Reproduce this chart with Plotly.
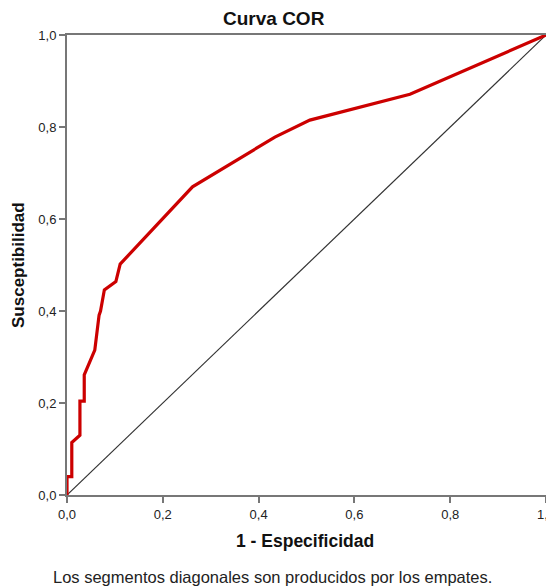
import plotly.graph_objects as go

fpr = [0.0, 0.0, 0.010, 0.010, 0.027, 0.027, 0.036, 0.036, 0.058, 0.067, 0.070, 0.078, 0.102, 0.111, 0.262, 0.434, 0.507, 0.716, 1.0]
tpr = [0.0, 0.040, 0.040, 0.114, 0.130, 0.204, 0.204, 0.261, 0.315, 0.391, 0.400, 0.446, 0.464, 0.502, 0.670, 0.778, 0.815, 0.871, 1.0]
ref_x = [0.0, 1.0]
ref_y = [0.0, 1.0]
ticks = [0.0, 0.2, 0.4, 0.6, 0.8, 1.0]
tick_text = ["0,0", "0,2", "0,4", "0,6", "0,8", "1,0"]

# page is offset by the default 8px body margin
OFF = 8
W, H = 546, 580
pl, pr, pt, pb = 67 - OFF, 8, 35 - OFF, H - (495 - OFF)
pw, ph = W - pl - pr, H - pt - pb

def px(x):
    return (x - OFF - pl) / pw

def py(y):
    return (H - pb - (y - OFF)) / ph

FONT = "Liberation Sans, Arial"

fig = go.Figure()
fig.add_trace(go.Scatter(x=ref_x, y=ref_y, mode="lines",
                         line=dict(color="#333333", width=1.2), hoverinfo="skip"))
fig.add_trace(go.Scatter(x=fpr, y=tpr, mode="lines",
                         line=dict(color="#CC0000", width=3.2)))

axis_common = dict(range=[0, 1], tickvals=ticks, ticktext=tick_text,
                   ticks="outside", ticklen=6, tickwidth=1.5, tickcolor="#777777",
                   showline=True, linecolor="#777777", linewidth=2, mirror=True,
                   showgrid=False, zeroline=False, automargin=False,
                   ticklabeloverflow="allow",
                   tickfont=dict(family=FONT, size=13, color="#222222"))

fig.update_layout(
    width=W, height=H,
    margin=dict(l=pl, r=pr, t=pt, b=pb),
    paper_bgcolor="white", plot_bgcolor="white",
    showlegend=False,
    xaxis=dict(**axis_common),
    yaxis=dict(**axis_common),
)

fig.add_annotation(text="<b>Curva COR</b>", x=px(274), y=py(18), xref="paper", yref="paper",
                   showarrow=False, xanchor="center", yanchor="middle",
                   font=dict(family=FONT, size=19, color="#111111"))
fig.add_annotation(text="<b>1 - Especificidad</b>", x=px(305), y=py(541), xref="paper", yref="paper",
                   showarrow=False, xanchor="center", yanchor="middle",
                   font=dict(family=FONT, size=17.5, color="#111111"))
fig.add_annotation(text="<b>Susceptibilidad</b>", x=px(18), y=py(265), xref="paper", yref="paper",
                   showarrow=False, xanchor="center", yanchor="middle", textangle=-90,
                   font=dict(family=FONT, size=17, color="#111111"))
fig.add_annotation(text="Los segmentos diagonales son producidos por los empates.", x=px(272), y=py(577),
                   xref="paper", yref="paper", showarrow=False, xanchor="center", yanchor="middle",
                   font=dict(family=FONT, size=16.5, color="#222222"))

fig.write_html("out.html")
